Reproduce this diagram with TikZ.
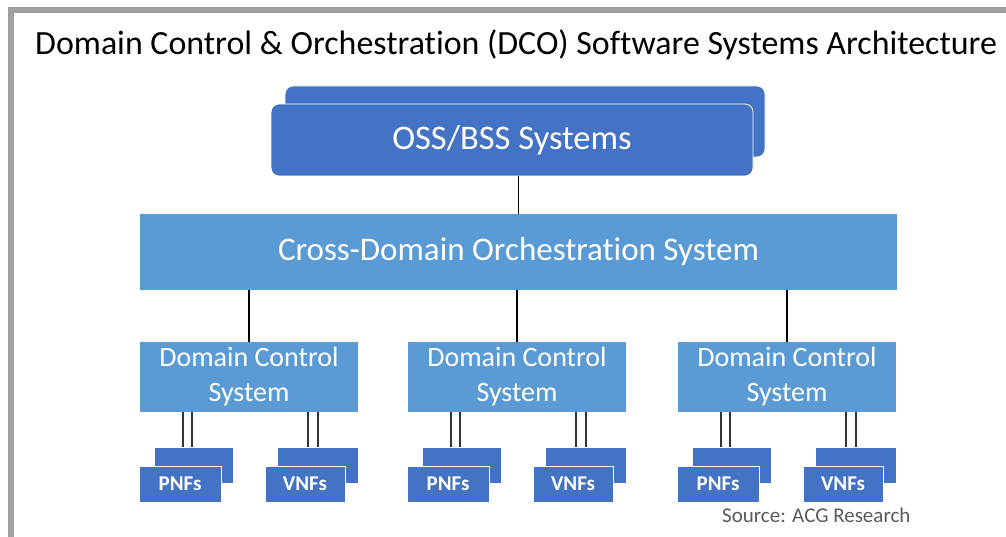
\documentclass[tikz,border=0pt]{standalone}
\usepackage{fontspec}
\setmainfont{Carlito}[Ligatures=NoCommon]
\newcommand{\nolig}{\kern0pt{}}
\definecolor{darkblue}{RGB}{68,114,196}
\definecolor{lightblue}{RGB}{91,155,213}
\definecolor{framegray}{RGB}{160,160,160}
\definecolor{srcgray}{RGB}{90,90,90}
\begin{document}
\begin{tikzpicture}[x=1pt,y=-1pt,
  darkbox/.style={rectangle, fill=darkblue, draw=white, line width=0.8pt, inner sep=0pt, text=white},
  lightbox/.style={rectangle, fill=lightblue, draw=none, inner sep=0pt, text=white},
  conn/.style={draw=black, line width=1.8pt},
  dconn/.style={draw=black!80, line width=1.4pt}]
\useasboundingbox (0,0) rectangle (1006,537);
\fill[white] (0,0) rectangle (1006,537);
% frame
\fill[framegray] (8,7) rectangle (1006,13);
\fill[framegray] (8,7) rectangle (14,537);
% title
\node[anchor=west, inner sep=0pt, font=\fontsize{33.9}{36}\selectfont] (title) at (35,45) {Domain Control \& Orchestrat\nolig ion (DCO) Software Systems Architecture};
% OSS/BSS
\node[darkbox, rounded corners=8pt, minimum width=480pt, minimum height=71pt] (ossb) at (525,121.5) {};
\node[darkbox, rounded corners=8pt, minimum width=482pt, minimum height=72pt, font=\fontsize{34.5}{36}\selectfont] (oss) at (512,140) {OSS/BSS Systems};
% Cross domain
\node[lightbox, minimum width=757pt, minimum height=76pt, font=\fontsize{33}{36}\selectfont] (cdo) at (518.5,252) {Cross-Domain Orchestrat\nolig ion System};
\draw[conn] (cdo.north) -- (cdo.north |- oss.south);
% groups
\foreach \i/\dx in {1/0,2/268,3/538}{
  \node[lightbox, minimum width=218pt, minimum height=70pt, align=center, font=\fontsize{28}{35}\selectfont] (d\i) at (249+\dx,377) {Domain Control\\System};
  \draw[conn] (d\i.north) -- (d\i.north |- cdo.south);
  \node[darkbox, minimum width=79pt, minimum height=36pt] (pb\i) at (193.5+\dx,465) {};
  \node[darkbox, minimum width=82pt, minimum height=36pt, font=\fontsize{21}{24}\selectfont\bfseries] (pf\i) at (180+\dx,484) {PNFs};
  \node[darkbox, minimum width=81pt, minimum height=36pt] (vb\i) at (317.5+\dx,465) {};
  \node[darkbox, minimum width=80pt, minimum height=36pt, font=\fontsize{21}{24}\selectfont\bfseries] (vf\i) at (305+\dx,484) {VNFs};
  \draw[dconn] ([xshift=3pt]pf\i.center |- d\i.south) -- ([xshift=3pt]pf\i.center |- pb\i.north);
  \draw[dconn] ([xshift=12pt]pf\i.center |- d\i.south) -- ([xshift=12pt]pf\i.center |- pb\i.north);
  \draw[dconn] ([xshift=3pt]vf\i.center |- d\i.south) -- ([xshift=3pt]vf\i.center |- vb\i.north);
  \draw[dconn] ([xshift=13pt]vf\i.center |- d\i.south) -- ([xshift=13pt]vf\i.center |- vb\i.north);
}
\node[anchor=west, inner sep=0pt, text=srcgray, font=\fontsize{21}{24}\selectfont] (src) at (722,515) {Source: ACG Research};
\end{tikzpicture}
\end{document}
